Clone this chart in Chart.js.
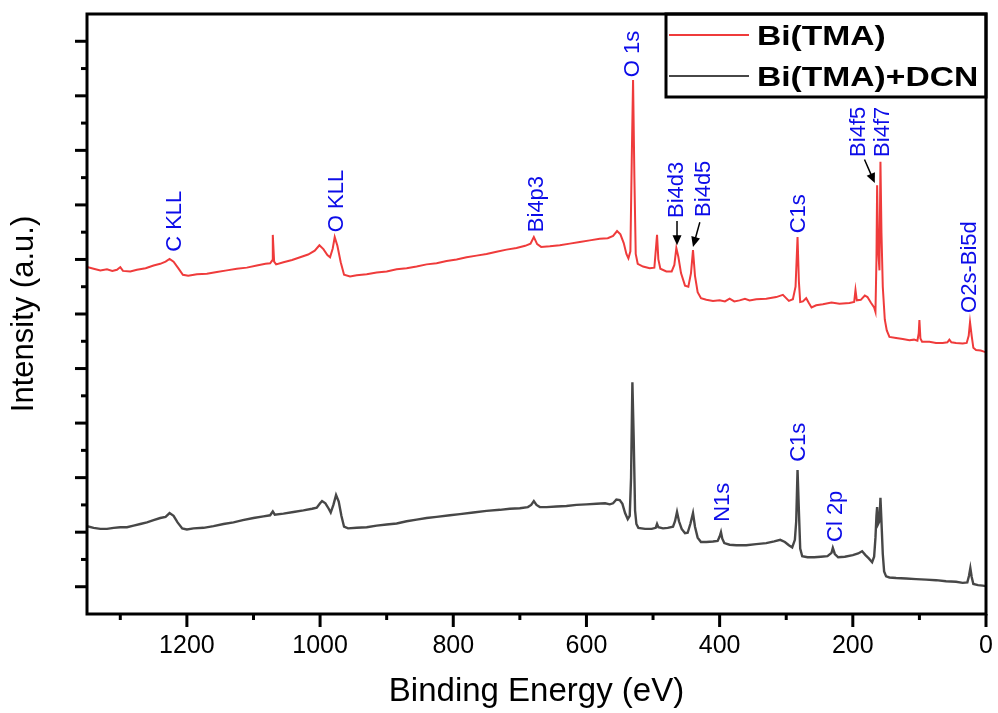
<!DOCTYPE html>
<html><head><meta charset="utf-8">
<script src="https://cdn.jsdelivr.net/npm/chart.js@4/dist/chart.umd.min.js"></script>
<style>html,body{margin:0;padding:0;background:#fff}#wrap{width:998px;height:713px}</style>
</head><body><div id="wrap"><canvas id="c" width="998" height="713"></canvas></div>
<script>
// ---------- data ----------
const seriesNames = ['Bi(TMA)', 'Bi(TMA)+DCN'];
const seriesColors = ['#ef3b3b', '#474747'];

const redEnergy = [1350,1340,1330,1320,1312,1305,1300,1296,1285,1275,1262,1250,1240,1232,1226,1220,1213,1206,1198,1185,1170,1155,1140,1125,1110,1095,1082,1075,1072,1071,1069,1066,1055,1042,1030,1018,1008,1001,995,989,985,981,978,974,969,964,955,945,930,915,900,885,870,855,840,825,810,795,780,765,750,735,720,705,692,684,679,674,668,655,640,625,610,595,580,568,560,554,549,544,540,537,534,532,530,528,526,523,515,505,498,495,494,492,489,480,472,468,465,462,458,452,447,443,440,437,433,428,420,410,400,392,385,378,370,362,355,345,330,315,305,296,290,286,283,281,279,275,270,266,262,255,245,232,220,205,198,196,194,188,182,178,173,168,166,164.5,163.5,162,160,158.5,157,155,152,149,145,135,125,115,108,103,101,100,98.5,96,85,75,65,58,55,52,45,35,29,26,24,21.5,19,15,8,3,0];
const redIntensity = [58.6,58.3,58.0,58.2,57.9,58.1,58.6,57.9,57.8,58.1,58.4,58.9,59.2,59.6,60.1,59.6,58.4,57.2,57.0,57.3,57.4,57.7,58.0,58.3,58.5,58.9,59.2,59.3,59.8,64.5,59.6,59.1,59.5,59.9,60.4,60.9,61.6,62.6,61.9,60.8,60.4,62.0,64.1,62.5,59.5,57.2,56.9,57.1,57.3,57.6,57.8,58.2,58.4,58.7,59.1,59.3,59.7,60.0,60.4,60.7,61.0,61.4,61.8,62.1,62.5,62.9,64.1,62.8,62.3,62.4,62.6,62.9,63.2,63.5,63.8,63.9,64.3,65.2,64.6,63.0,61.0,60.2,61.5,78.0,92.9,75.0,61.0,59.2,58.7,58.4,58.5,63.0,64.5,60.0,58.3,57.8,57.8,59.0,62.1,60.5,57.5,55.2,55.0,57.5,61.7,57.0,54.0,52.9,52.6,52.4,52.5,52.3,52.8,52.3,52.5,52.8,52.5,52.7,52.8,53.1,53.5,52.4,52.7,55.0,64.1,56.0,52.2,52.3,52.9,52.0,51.2,51.6,51.8,52.1,51.9,52.0,52.2,54.4,52.5,52.6,53.4,53.1,52.1,51.2,50.4,60.0,73.6,62.0,58.0,77.9,65.0,55.0,49.0,47.0,45.8,45.6,45.4,45.2,45.3,45.1,46.5,48.9,45.5,44.9,44.9,44.7,44.7,44.8,45.3,44.8,44.7,44.6,44.7,46.0,48.5,46.0,43.8,43.4,43.3,43.1,43.0];

const grayEnergy = [1350,1340,1330,1320,1310,1300,1290,1280,1270,1260,1250,1240,1232,1226,1220,1214,1207,1200,1190,1175,1160,1145,1130,1116,1100,1085,1075,1071,1068,1055,1040,1025,1012,1005,1000,997,992,987,984,980,976,972,968,964,958,945,930,915,900,885,870,855,840,825,805,790,770,750,730,715,700,688,683,679,675,670,660,645,630,615,600,585,572,565,560,555,550,546,542,538,535,533,531,529,527,525,522,512,502,496,494,492,485,478,470,467,464,461,457,452,448,444,440,437,433,428,420,410,403,400,398,396,393,385,375,360,345,330,318,309,302,296,291,287,285,283,281,279,276,268,258,248,238,232,230,227,222,212,200,192,186,181,176,171,168,166,164.5,163.5,162,160,158.5,157,155,153,150,145,135,120,105,90,75,60,45,35,28,25.5,23.5,21.5,19,12,5,0];
const grayIntensity = [11.1,10.8,10.6,10.6,10.8,10.9,10.9,11.2,11.5,11.8,12.2,12.6,12.8,13.5,13.0,11.8,10.7,10.5,10.7,10.8,11.1,11.5,11.8,12.2,12.6,12.9,13.1,13.8,13.2,13.4,13.7,14.0,14.3,14.5,15.3,15.7,15.3,14.3,13.6,15.0,16.8,15.6,13.0,11.0,10.7,10.8,10.9,11.2,11.4,11.6,12.0,12.3,12.6,12.8,13.1,13.3,13.6,13.9,14.1,14.3,14.4,14.6,15.0,15.7,15.0,14.6,14.6,14.7,14.8,15.0,15.1,15.2,15.3,15.1,15.3,16.0,15.9,15.2,13.5,12.4,13.0,20.0,37.5,27.0,14.0,11.5,10.8,10.6,10.6,10.8,11.5,10.9,10.7,10.8,11.0,12.0,13.7,12.0,10.6,9.8,9.9,11.5,13.5,11.0,9.0,8.2,8.2,8.3,8.4,9.2,10.0,8.8,8.0,7.7,7.6,7.6,7.8,8.0,8.3,8.6,8.2,7.6,7.2,8.6,12.0,21.4,14.0,7.0,5.6,5.4,5.4,5.5,5.6,6.2,7.1,6.0,5.4,5.5,5.8,6.1,6.5,5.8,5.2,4.5,5.5,9.0,13.0,14.6,11.5,12.0,16.3,12.0,6.0,2.8,1.9,1.7,1.6,1.5,1.4,1.3,1.2,1.0,0.9,0.7,0.8,2.0,3.4,1.8,0.5,0.3,0.2,0.1];

// peak annotations (text starts at this energy / intensity, reads upward)
const peakLabels    = ['C KLL','O KLL','Bi4p3','O 1s','Bi4d3','Bi4d5','C1s','Bi4f5','Bi4f7','O2s-Bi5d','N1s','C1s','Cl 2p'];
const peakEnergy    = [1218, 975, 674, 530, 464, 424, 281, 191, 155, 24, 395, 281, 225];
const peakIntensity = [61.4, 65.0, 65.0, 93.4, 67.6, 67.8, 64.8, 78.8, 78.8, 50.2, 11.9, 22.9, 8.2];

// arrows: start (energy, intensity) -> end (energy, intensity)
const arrowFromE = [464, 430, 182];
const arrowFromI = [66.9, 66.7, 78.2];
const arrowToE   = [464, 440, 167];
const arrowToI   = [62.6, 62.3, 74.0];

const xMajorStep = 200, xMinorStep = 100;
const yMajorStep = 10,  yMinorStep = 5;

// ---------- chart ----------
const FONT = '"Liberation Sans", Arial, Helvetica, sans-serif';
Chart.defaults.font.family = FONT;
Chart.defaults.color = '#000';

const toPts = (xs, ys) => xs.map((e, i) => ({x: e, y: ys[i]}));

const framePlugin = {
  id: 'frameTicks',
  afterDraw(chart) {
    const {ctx, chartArea: a, scales: {x, y}} = chart;
    ctx.save();
    ctx.strokeStyle = '#000';
    ctx.lineWidth = 3;
    ctx.lineCap = 'butt';
    for (let e = 0; e <= x.max; e += xMinorStep) {
      const px = x.getPixelForValue(e);
      const len = (e % xMajorStep === 0) ? 13 : 6;
      ctx.beginPath(); ctx.moveTo(px, a.bottom); ctx.lineTo(px, a.bottom + len); ctx.stroke();
    }
    for (let v = 0; v <= 100; v += yMinorStep) {
      const py = y.getPixelForValue(v);
      const len = (v % yMajorStep === 0) ? 12 : 6;
      ctx.beginPath(); ctx.moveTo(a.left, py); ctx.lineTo(a.left - len, py); ctx.stroke();
    }
    ctx.lineCap = 'square';
    ctx.strokeRect(a.left, a.top, a.right - a.left, a.bottom - a.top);

    // annotations
    ctx.fillStyle = '#0c0ce8';
    ctx.font = '22px ' + FONT;
    ctx.textAlign = 'left';
    ctx.textBaseline = 'middle';
    peakLabels.forEach((t, i) => {
      const px = x.getPixelForValue(peakEnergy[i]);
      const py = y.getPixelForValue(peakIntensity[i]);
      ctx.save();
      ctx.translate(px, py);
      ctx.rotate(-Math.PI / 2);
      ctx.fillText(t, 0, 0);
      ctx.restore();
    });

    // arrows
    ctx.strokeStyle = '#000';
    ctx.fillStyle = '#000';
    ctx.lineWidth = 1.5;
    arrowFromE.forEach((e, i) => {
      const x0 = x.getPixelForValue(e), y0 = y.getPixelForValue(arrowFromI[i]);
      const x1 = x.getPixelForValue(arrowToE[i]), y1 = y.getPixelForValue(arrowToI[i]);
      const ang = Math.atan2(y1 - y0, x1 - x0);
      const hl = 10, hw = 4.5;
      const bx = x1 - hl * Math.cos(ang), by = y1 - hl * Math.sin(ang);
      ctx.beginPath(); ctx.moveTo(x0, y0); ctx.lineTo(bx, by); ctx.stroke();
      ctx.beginPath();
      ctx.moveTo(x1, y1);
      ctx.lineTo(bx + hw * Math.sin(ang), by - hw * Math.cos(ang));
      ctx.lineTo(bx - hw * Math.sin(ang), by + hw * Math.cos(ang));
      ctx.closePath(); ctx.fill();
    });

    // legend box
    const L = a.right - 320, T = a.top, B = a.top + 83;
    ctx.lineWidth = 3;
    ctx.strokeStyle = '#000';
    ctx.strokeRect(L, T, a.right - L, B - T);
    const rows = [a.top + 21, a.top + 62];
    chart.data.datasets.forEach((ds, i) => {
      ctx.strokeStyle = ds.borderColor;
      ctx.lineWidth = 2;
      ctx.beginPath(); ctx.moveTo(L + 4, rows[i]); ctx.lineTo(L + 82, rows[i]); ctx.stroke();
      ctx.save();
      ctx.translate(L + 91, rows[i] + 2);
      ctx.scale(1.2, 1);
      ctx.fillStyle = '#000';
      ctx.font = 'bold 28px ' + FONT;
      ctx.textAlign = 'left';
      ctx.textBaseline = 'middle';
      ctx.fillText(ds.label, 0, 0);
      ctx.restore();
    });
    ctx.restore();
  }
};

new Chart(document.getElementById('c'), {
  type: 'line',
  data: {
    datasets: [
      {label: seriesNames[0], data: toPts(redEnergy, redIntensity), borderColor: seriesColors[0], borderWidth: 2, pointRadius: 0, tension: 0, fill: false},
      {label: seriesNames[1], data: toPts(grayEnergy, grayIntensity), borderColor: seriesColors[1], borderWidth: 2.4, pointRadius: 0, tension: 0, fill: false}
    ]
  },
  options: {
    responsive: false,
    animation: false,
    devicePixelRatio: 1,
    layout: {padding: {top: 14, right: 12, left: 0, bottom: 0}},
    plugins: {legend: {display: false}, tooltip: {enabled: false}},
    scales: {
      x: {
        type: 'linear', reverse: true, min: 0, max: 1350,
        afterFit: s => { s.height = 99; s.paddingLeft = 0; s.paddingRight = 0; },
        grid: {display: false, drawTicks: false},
        border: {display: false},
        ticks: {stepSize: xMajorStep, includeBounds: false, padding: 17, autoSkip: false, maxRotation: 0,
                font: {size: 25}, color: '#000', callback: v => String(v)},
        title: {display: true, text: 'Binding Energy (eV)', color: '#000', font: {size: 33}, padding: {top: 0, bottom: 1}}
      },
      y: {
        type: 'linear', min: -5, max: 105,
        afterFit: s => { s.width = 87; s.paddingTop = 0; s.paddingBottom = 0; },
        grid: {display: false, drawTicks: false},
        border: {display: false},
        ticks: {display: false},
        title: {display: true, text: 'Intensity (a.u.)', color: '#000', font: {size: 31}, padding: {top: 6, bottom: 0}}
      }
    }
  },
  plugins: [framePlugin]
});
</script>
</body></html>
